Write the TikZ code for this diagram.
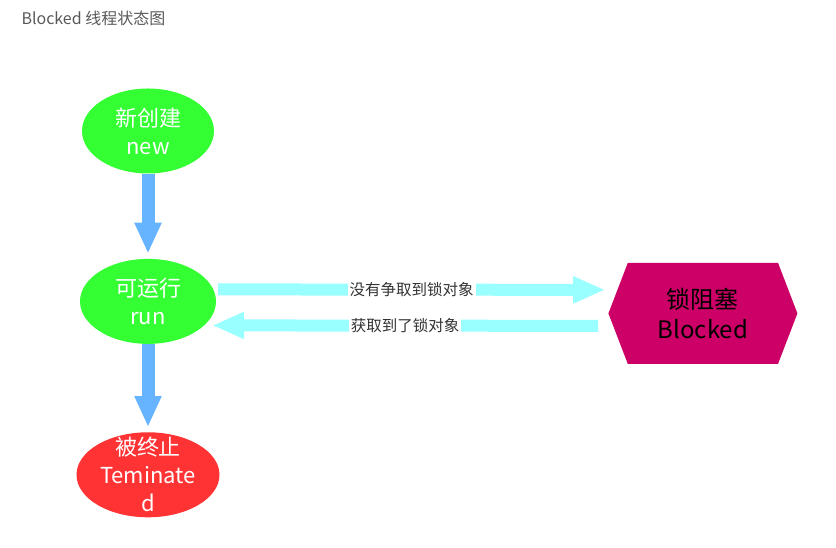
\documentclass[tikz,border=0pt]{standalone}
\usepackage{fontspec}
\setmainfont{Noto Sans CJK SC}
\usetikzlibrary{arrows.meta, positioning, shapes.geometric, shapes.symbols}
\definecolor{stategreen}{HTML}{33FF33}
\definecolor{statered}{HTML}{FF3333}
\definecolor{lockpink}{HTML}{CC0066}
\definecolor{flowblue}{HTML}{66B3FF}
\definecolor{lockcyan}{HTML}{99FFFF}
\tikzset{
  state/.style={ellipse,fill=stategreen,text=white,align=center,inner sep=0pt,minimum width=132pt,minimum height=85pt,font=\fontsize{22}{28}\selectfont},
  lockstate/.style={signal,signal to=west and east,signal pointer angle=138,fill=lockpink,align=center,inner sep=0pt,minimum width=189pt,minimum height=101pt,font=\fontsize{24}{30}\selectfont},
  flow/.style={draw=flowblue,line width=13pt,-{Triangle[width=25pt,length=31pt]},shorten >=5pt},
  lockflow/.style={draw=lockcyan,line width=12pt,-{Triangle[width=25pt,length=32pt]}},
  edgelabel/.style={fill=white,text=black!80,inner sep=2pt,font=\fontsize{15.5}{18}\selectfont}
}

\begin{document}
\begin{tikzpicture}[x=1pt,y=1pt]
\useasboundingbox (0,0) rectangle (836,548);
\node[anchor=west,text=black!65,font=\fontsize{16}{19}\selectfont] (title) at (18,530) {Blocked 线程状态图};
\node[state] (new) at (148,417) {新创建\\new};
\node[state, minimum width=136pt, below=85pt of new] (run) {可运行\\run};
\node[state, fill=statered, minimum width=143pt, below=88pt of run] (term) {};
\node[state, fill=none] (termtext) at (term) {被终止\\Teminate\\d};
\node[lockstate, right=392pt of run, yshift=-12pt] (blocked) {锁阻塞\\Blocked};
\draw[flow] (new) -- (run);
\draw[flow] (run) -- (term);
\draw[lockflow] ([shift={(2,12)}]run.east) -- node[edgelabel] (misslabel) {没有争取到锁对象} ([shift={(-3,23.5)}]blocked.west);
\draw[lockflow] ([shift={(-10,-12.5)}]blocked.west) -- node[edgelabel] (getlabel) {获取到了锁对象} ([shift={(-4,-24)}]run.east);
\end{tikzpicture}
\end{document}
